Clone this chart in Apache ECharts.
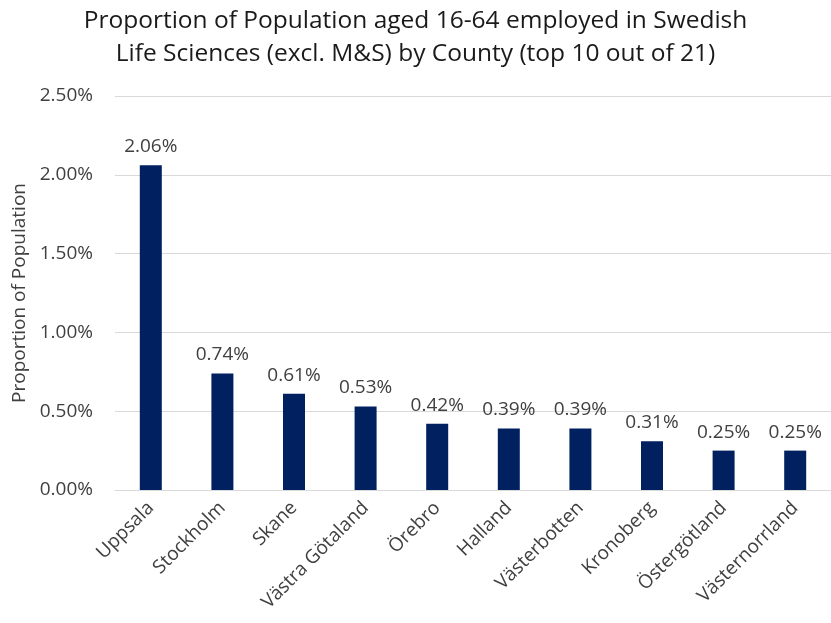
<!DOCTYPE html>
<html>
<head>
<meta charset="utf-8">
<script src="https://cdn.jsdelivr.net/npm/echarts@6/dist/echarts.min.js"></script>
<style>
  html, body { margin: 0; padding: 0; background: #ffffff; }
  #chart { width: 831px; height: 623px; }
</style>
</head>
<body>
<div id="chart"></div>
<script>
// Counties (top 10 of 21) and share of population aged 16-64 employed, in percent
const counties = ['Uppsala', 'Stockholm', 'Skane', 'Västra Götaland', 'Örebro',
  'Halland', 'Västerbotten', 'Kronoberg', 'Östergötland', 'Västernorrland'];
const sharePct = [2.06, 0.74, 0.61, 0.53, 0.42, 0.39, 0.39, 0.31, 0.25, 0.25];
const yTicks = [0, 0.5, 1.0, 1.5, 2.0, 2.5];

const FONT = '"Open Sans", sans-serif';
const chart = echarts.init(document.getElementById('chart'), null, { renderer: 'canvas' });

chart.setOption({
  animation: false,
  backgroundColor: '#ffffff',
  title: {
    text: 'Proportion of Population aged 16-64 employed in Swedish\nLife Sciences (excl. M&S) by County (top 10 out of 21)',
    left: 'center',
    top: 0,
    textStyle: {
      fontFamily: FONT, fontSize: 24.5, fontWeight: 'normal',
      color: '#1a1a1a', lineHeight: 33
    }
  },
  grid: { left: 115, top: 96, width: 721, height: 394, containLabel: false },
  xAxis: {
    type: 'category',
    data: counties,
    axisTick: { show: false },
    axisLine: { lineStyle: { color: '#d9d9d9', width: 1 } },
    axisLabel: {
      rotate: 45, margin: 15, interval: 0,
      fontFamily: FONT, fontSize: 19, color: '#404040'
    }
  },
  yAxis: {
    type: 'value',
    min: yTicks[0],
    max: yTicks[yTicks.length - 1],
    interval: 0.5,
    name: 'Proportion of Population',
    nameLocation: 'middle',
    nameGap: 78,
    nameTextStyle: { fontFamily: FONT, fontSize: 19, color: '#404040' },
    axisLine: { show: false },
    axisTick: { show: false },
    splitLine: { lineStyle: { color: '#d9d9d9', width: 1 } },
    axisLabel: {
      margin: 22,
      fontFamily: FONT, fontSize: 19, color: '#404040',
      formatter: v => v.toFixed(2) + '%'
    }
  },
  series: [{
    type: 'bar',
    data: sharePct,
    barWidth: 22,
    itemStyle: { color: '#002060' },
    label: {
      show: true, position: 'top', distance: 9,
      fontFamily: FONT, fontSize: 19, color: '#404040',
      formatter: p => p.value.toFixed(2) + '%'
    }
  }]
});
</script>
</body>
</html>
